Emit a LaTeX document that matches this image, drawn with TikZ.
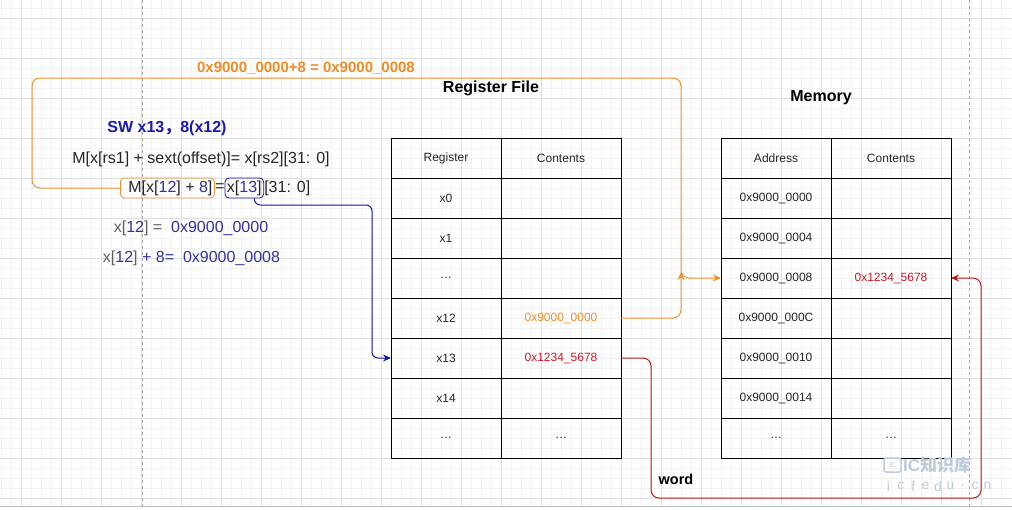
\documentclass[tikz,border=0pt]{standalone}
\usepackage{fontspec}
\setmainfont{Liberation Sans}
\newfontfamily\cjk{Noto Sans CJK SC}
\usetikzlibrary{arrows.meta,positioning}
\definecolor{lnorange}{RGB}{240,145,45}
\definecolor{txorange}{RGB}{240,140,40}
\definecolor{lnblue}{RGB}{20,20,170}
\definecolor{insblue}{RGB}{25,25,175}
\definecolor{numblue}{RGB}{50,50,165}
\definecolor{txgrey}{RGB}{95,95,95}
\definecolor{lnred}{RGB}{185,25,25}
\definecolor{txred}{RGB}{205,25,40}
\definecolor{wmark}{RGB}{188,203,218}
\newcommand{\numc}[1]{\textcolor{numblue}{#1}}
\newcommand{\etc}{\raisebox{-0.2ex}{\ldots}}

\begin{document}
\begin{tikzpicture}[x=1pt,y=-1pt,>=Stealth,font=\fontsize{12}{14}\selectfont,
  gridminor/.style={draw=black!5,line width=0.5pt},
  gridmajor/.style={draw=black!12,line width=0.6pt},
  cell/.style={draw,line width=1pt,minimum height=40pt,inner sep=0pt,outer sep=0pt,text=black!85},
  regcol/.style={cell,minimum width=110pt},
  valcol/.style={cell,minimum width=120pt},
  title/.style={font=\fontsize{16}{19}\selectfont\bfseries},
  formula/.style={font=\fontsize{16}{19}\selectfont,inner sep=0pt,text=black!85},
  hl/.style={draw,line width=0.8pt,rounded corners=4pt,minimum height=20pt,inner xsep=2pt},
  link/.style={line width=1pt,rounded corners=8pt,-{Stealth[length=8pt,width=7pt]}}]
% page and grid
\fill[white] (0,0) rectangle (1012,509);
\useasboundingbox (0,0) rectangle (1012,509);
\foreach \x in {1.7,11.7,...,1011}{\draw[gridminor] (\x,0) -- (\x,506);}
\foreach \y in {8,18,...,506}{\draw[gridminor] (0,\y) -- (1012,\y);}
\foreach \x in {21.7,61.7,...,1011}{\draw[gridmajor] (\x,0) -- (\x,506);}
\foreach \y in {18,58,...,506}{\draw[gridmajor] (0,\y) -- (1012,\y);}
\draw[black!35,dashed] (141.7,0) -- (141.7,506);
\draw[black!35,dashed] (968.7,0) -- (968.7,506);
\draw[black!25,line width=1pt] (0,506.5) -- (1012,506.5);
% titles
\node[title] (rftitle) at (491,88) {Register File};
\node[title] (memtitle) at (821,98) {Memory};
% register file
\foreach \i/\r/\c/\col in {0/Register/Contents/black!85, 1/x0//black, 2/x1//black,
  3/\etc//black, 4/x12/0x9000\_0000/txorange, 5/x13/0x1234\_5678/txred,
  6/x14//black, 7/\etc/\etc/black!85}{
  \node[regcol] (rn\i) at (446,158+40*\i) {\r};
  \node[valcol,text=\col] (rc\i) at (561,158+40*\i) {\c};
}
% memory
\foreach \i/\a/\c in {0/Address/Contents, 1/0x9000\_0000/, 2/0x9000\_0004/,
  3/0x9000\_0008/{\textcolor{txred}{0x1234\_5678}}, 4/0x9000\_000C/,
  5/0x9000\_0010/, 6/0x9000\_0014/, 7/\etc/\etc}{
  \node[regcol] (ma\i) at (776,158+40*\i) {\a};
  \node[valcol] (mc\i) at (891,158+40*\i) {\c};
}
% instruction and its meaning
\node[formula,font=\fontsize{16}{19}\selectfont\bfseries,text=insblue] (ins) at (167,128) {SW x13{\cjk ，}8(x12)};
\node[formula] (gen) at (201,159) {M[x[rs1] + sext(offset)]= x[rs2][31: 0]};
\node[formula,hl,draw=lnorange,anchor=west] (bx12) at (120,188) {\hspace{6pt}M[x[\numc{12}] + \numc{8}]};
\node[formula,right=0pt of bx12] (eq) {=};
\node[formula,hl,draw=lnblue,right=0pt of eq] (bx13) {x[\numc{13}]};
\node[formula,right=0pt of bx13] (bits) {[31: 0]};
\node[formula,text=txgrey] (v12) at (191,228) {x[\numc{12}] =\ \ \numc{0x9000\_0000}};
\node[formula,text=txgrey] (v12p) at (191.5,258) {x[\numc{12}] \numc{+ 8=\ \ 0x9000\_0008}};
% address path
\node[font=\fontsize{15}{18}\selectfont\bfseries,text=txorange] (addr) at (306,68) {0x9000\_0000+8 = 0x9000\_0008};
\coordinate (tip) at (681,272);
\draw[link,draw=lnorange] (rc4.east) -| (tip);
\draw[link,draw=lnorange] (bx12.west) -- (32,188) -- (32,78) -| (681,278) -- (ma3.west);
% data path
\coordinate (bt) at (372,205);
\draw[link,draw=lnblue,rounded corners=6pt] ([xshift=10pt]bx13.south) |- (bt) |- (rn5.west);
\draw[link,draw=lnred] (rc5.east) -| (651,498) -| (981,278) -- (mc3.east);
\node[font=\fontsize{14.5}{17}\selectfont\bfseries] (wd) at (676,479) {word};
% watermark
\draw[wmark,line width=1.5pt,rounded corners=2pt] (884,458) rectangle (901,472);
\node[text=wmark,font=\fontsize{7}{8}\selectfont,inner sep=0pt] (wmic) at (892.5,465.5) {IC};
\node[text=wmark,font=\fontsize{17}{19}\selectfont\bfseries,anchor=west,inner sep=0pt] (wmtxt) at (903,465) {IC{\cjk 知识库}};
\foreach \ch [count=\k] in {i,c,f,e,d,u,.,c,n}{
  \node[text=wmark,font=\fontsize{14}{16}\selectfont,inner sep=0pt] at (876+12.4*\k,486) {\ch};
}
\end{tikzpicture}
\end{document}
